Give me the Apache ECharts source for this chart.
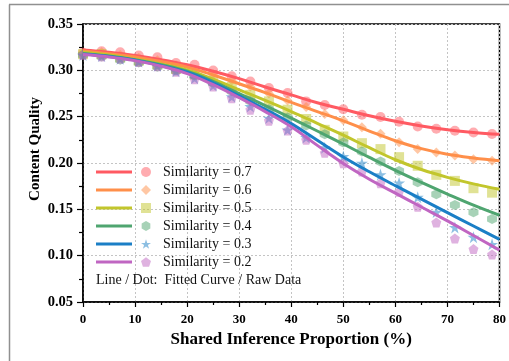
<!DOCTYPE html>
<html>
<head>
<meta charset="utf-8">
<script src="https://cdn.jsdelivr.net/npm/echarts@6/dist/echarts.min.js"></script>
<style>
html,body{margin:0;padding:0;background:#fff;}
#c{width:509px;height:361px;}
</style>
</head>
<body>
<div id="c"></div>
<script>
// ---- data ----
const similarities = ['0.7', '0.6', '0.5', '0.4', '0.3', '0.2'];
const xTicks = [0, 10, 20, 30, 40, 50, 60, 70, 80];
const yTicks = [0.05, 0.10, 0.15, 0.20, 0.25, 0.30, 0.35];

// fitted curves, sampled at fitX
const fitX = [0, 5, 10, 15, 20, 25, 30, 35, 40, 45, 50, 55, 60, 65, 70, 75, 80];
const fit07 = [0.322, 0.3195, 0.316, 0.3115, 0.306, 0.299, 0.291, 0.282, 0.2735, 0.265, 0.258, 0.251, 0.245, 0.240, 0.236, 0.233, 0.231];
const fit06 = [0.321, 0.318, 0.3145, 0.3095, 0.3035, 0.295, 0.2855, 0.276, 0.2655, 0.2555, 0.2455, 0.2345, 0.224, 0.2155, 0.2095, 0.2055, 0.2025];
const fit05 = [0.3195, 0.3165, 0.312, 0.307, 0.3005, 0.2905, 0.279, 0.2675, 0.2555, 0.2428, 0.230, 0.2165, 0.2035, 0.193, 0.1845, 0.1775, 0.1717];
const fit04 = [0.318, 0.3155, 0.3115, 0.306, 0.299, 0.288, 0.275, 0.262, 0.2485, 0.2345, 0.2205, 0.206, 0.192, 0.179, 0.1665, 0.1545, 0.1436];
const fit03 = [0.3175, 0.315, 0.311, 0.305, 0.298, 0.2865, 0.2725, 0.258, 0.2425, 0.2245, 0.2065, 0.1905, 0.1755, 0.161, 0.1465, 0.132, 0.1175];
const fit02 = [0.317, 0.3145, 0.3105, 0.3045, 0.2965, 0.2845, 0.2705, 0.2555, 0.239, 0.219, 0.1995, 0.1825, 0.1675, 0.1525, 0.1375, 0.1218, 0.106];

// raw data, sampled at rawX
const rawX = [0, 3.57, 7.14, 10.71, 14.29, 17.86, 21.43, 25, 28.57, 32.14, 35.71, 39.29, 42.86, 46.43, 50, 53.57, 57.14, 60.71, 64.29, 67.86, 71.43, 75, 78.57];
const raw07 = [0.319, 0.3206, 0.3195, 0.316, 0.314, 0.308, 0.306, 0.2997, 0.2935, 0.288, 0.281, 0.2755, 0.2665, 0.2626, 0.258, 0.252, 0.2496, 0.2445, 0.2394, 0.237, 0.2348, 0.233, 0.2312];
const raw06 = [0.3185, 0.3195, 0.3165, 0.3135, 0.311, 0.3055, 0.300, 0.2955, 0.289, 0.2825, 0.275, 0.2675, 0.2605, 0.253, 0.246, 0.2385, 0.2315, 0.2225, 0.215, 0.2113, 0.208, 0.2041, 0.2023];
const raw05 = [0.3175, 0.3175, 0.314, 0.3105, 0.3065, 0.3015, 0.2955, 0.289, 0.282, 0.2735, 0.2665, 0.2575, 0.2475, 0.2358, 0.2286, 0.2214, 0.215, 0.2063, 0.197, 0.1872, 0.1807, 0.1728, 0.168];
const raw04 = [0.3165, 0.315, 0.3115, 0.3085, 0.304, 0.2995, 0.2945, 0.2865, 0.2775, 0.267, 0.258, 0.249, 0.2405, 0.231, 0.222, 0.2124, 0.2016, 0.1915, 0.1792, 0.1662, 0.1547, 0.1468, 0.1395];
const raw03 = [0.3165, 0.3155, 0.3125, 0.3095, 0.305, 0.299, 0.2915, 0.2835, 0.2715, 0.261, 0.2485, 0.2358, 0.2275, 0.2165, 0.207, 0.1999, 0.1875, 0.1785, 0.163, 0.147, 0.1305, 0.120, 0.1122];
const raw02 = [0.3165, 0.315, 0.3125, 0.309, 0.3045, 0.2985, 0.2905, 0.2825, 0.270, 0.2575, 0.2456, 0.235, 0.225, 0.211, 0.1998, 0.1908, 0.1781, 0.1691, 0.1529, 0.1359, 0.1186, 0.1071, 0.1013];

const fits = [fit07, fit06, fit05, fit04, fit03, fit02];
const raws = [raw07, raw06, raw05, raw04, raw03, raw02];

// ---- style ----
const colors = ['#ff5a62', '#ff8f4a', '#c2c62c', '#4fa570', '#1b7fc6', '#c066c2'];
const symbols = [
  'circle',
  'diamond',
  'rect',
  'path://M0,-1L0.866,-0.5L0.866,0.5L0,1L-0.866,0.5L-0.866,-0.5Z',
  'path://M0,-1L0.2245,-0.309L0.951,-0.309L0.363,0.118L0.588,0.809L0,0.382L-0.588,0.809L-0.363,0.118L-0.951,-0.309L-0.2245,-0.309Z',
  'path://M0,-1L0.951,-0.309L0.588,0.809L-0.588,0.809L-0.951,-0.309Z'
];
const serif = '"Liberation Serif", "DejaVu Serif", serif';

const series = [];
similarities.forEach((s, k) => {
  series.push({
    name: 'Similarity = ' + s,
    type: 'scatter',
    data: rawX.map((x, i) => [x, raws[k][i]]),
    symbol: symbols[k],
    symbolSize: k === 4 ? 12 : 10,
    itemStyle: { color: colors[k], opacity: 0.5 },
    z: 2
  });
});
similarities.forEach((s, k) => {
  series.push({
    name: 'fit ' + s,
    type: 'line',
    data: fitX.map((x, i) => [x, fits[k][i]]),
    smooth: 0.4,
    showSymbol: false,
    symbol: 'none',
    lineStyle: { color: colors[k], width: 3 },
    itemStyle: { color: colors[k] },
    z: 3
  });
});

const legendText = { fontFamily: serif, fontSize: 14, color: '#111', lineHeight: 16 };

const chart = echarts.init(document.getElementById('c'), null, { renderer: 'canvas' });
chart.setOption({
  backgroundColor: '#fff',
  animation: false,
  grid: { left: 83, right: 9, top: 24, bottom: 59, show: true, borderColor: '#000', borderWidth: 1.5, backgroundColor: 'transparent' },
  xAxis: {
    type: 'value', min: xTicks[0], max: xTicks[xTicks.length - 1], interval: 10,
    name: 'Shared Inference Proportion (%)', nameLocation: 'middle', nameGap: 27,
    nameTextStyle: { fontFamily: serif, fontWeight: 'bold', fontSize: 17, color: '#000' },
    axisLine: { onZero: false, lineStyle: { color: '#000', width: 1.5 } },
    axisTick: { show: true, inside: false, length: 5, lineStyle: { color: '#000', width: 1.2 } },
    minorTick: { show: true, splitNumber: 2, length: 3, lineStyle: { color: '#000', width: 1.2 } },
    axisLabel: { fontFamily: serif, fontWeight: 'bold', fontSize: 13, color: '#000', margin: 11 },
    splitLine: { show: true, lineStyle: { color: '#c4c4c4', type: [2, 2], width: 1 } }
  },
  yAxis: {
    type: 'value', min: yTicks[0], max: yTicks[yTicks.length - 1], interval: 0.05,
    name: 'Content Quality', nameLocation: 'middle', nameGap: 40, nameMoveOverlap: false,
    nameTextStyle: { fontFamily: serif, fontWeight: 'bold', fontSize: 15, color: '#000', padding: [0, 0, 0, 28] },
    axisLine: { onZero: false, lineStyle: { color: '#000', width: 1.5 } },
    axisTick: { show: true, inside: false, length: 6, lineStyle: { color: '#000', width: 1.2 } },
    minorTick: { show: true, splitNumber: 2, length: 4, lineStyle: { color: '#000', width: 1.2 } },
    axisLabel: { fontFamily: serif, fontWeight: 'bold', fontSize: 14.5, color: '#000', margin: 10,
      formatter: v => v.toFixed(2) },
    splitLine: { show: true, lineStyle: { color: '#c4c4c4', type: [2, 2], width: 1 } }
  },
  legend: [
    {
      data: similarities.map(s => 'fit ' + s),
      orient: 'vertical', left: 96, top: 164, padding: 0,
      icon: 'rect', itemWidth: 36, itemHeight: 3, itemGap: 2,
      formatter: () => ' ',
      textStyle: legendText,
      selectedMode: false
    },
    {
      data: similarities.map(s => 'Similarity = ' + s),
      orient: 'vertical', left: 141, top: 164, padding: 0,
      itemWidth: 10, itemHeight: 10, itemGap: 2,
      textStyle: Object.assign({ padding: [0, 0, 0, 7] }, legendText),
      selectedMode: false
    }
  ],
  title: {
    text: 'Line / Dot:  Fitted Curve / Raw Data',
    left: 96, top: 273, padding: 0,
    textStyle: { fontFamily: serif, fontSize: 14, fontWeight: 'normal', color: '#111' }
  },
  graphic: [
    { type: 'line', shape: { x1: 9, y1: 4.5, x2: 509, y2: 4.5 }, style: { stroke: '#909090', lineWidth: 1.5 }, silent: true },
    { type: 'line', shape: { x1: 9.5, y1: 4.5, x2: 9.5, y2: 361 }, style: { stroke: '#909090', lineWidth: 1.5 }, silent: true }
  ],
  series: series
});
</script>
</body>
</html>
